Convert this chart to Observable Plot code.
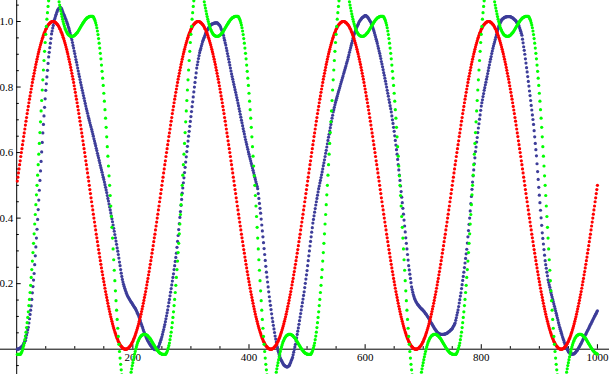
<!DOCTYPE html>
<html>
<head>
<meta charset="utf-8">
<script src="https://cdn.jsdelivr.net/npm/d3@7"></script>
<script src="https://cdn.jsdelivr.net/npm/@observablehq/plot@0.6"></script>
<style>
html,body{margin:0;padding:0;background:#fff;}
#chart svg{display:block;}
</style>
</head>
<body>
<div id="chart"></div>
<script>
// ---- tick values and labels ----
const xTicksMajor = [200, 400, 600, 800, 1000];
const xTickLabels = ["200", "400", "600", "800", "1000"];
const xTicksMinor = [50, 100, 150, 250, 300, 350, 450, 500, 550, 650, 700, 750, 850, 900, 950];
const yTicksMajor = [0.2, 0.4, 0.6, 0.8, 1.0];
const yTickLabels = ["0.2", "0.4", "0.6", "0.8", "1.0"];
const yTicksMinor = [-0.05, 0.05, 0.1, 0.15, 0.25, 0.3, 0.35, 0.45, 0.5, 0.55, 0.65, 0.7, 0.75, 0.85, 0.9, 0.95, 1.05];

// ---- series values (one value per sample, samples 1..1000) ----
const red = [
.513,.525,.538,.55,.563,.575,.588,.6,.612,.624,.636,.649,.66,.672,.684,.696,.707,.719,.73,.741,.752,.763,.773,.784,.794,.804,.814,.824,.833,.842,.851,.86,.869,.877,.885,.893,.901,.908,.915,.922,.929,.935,.941,.947,.952,.958,.963,.967,.971,.976,.979,.983,.986,.989,.991,.993,.995,.997,.998,.999,1,1,
1,1,.999,.998,.997,.995,.993,.991,.989,.986,.983,.979,.976,.971,.967,.963,.958,.952,.947,.941,.935,.929,.922,.915,.908,.901,.893,.885,.877,.869,.86,.851,.842,.833,.824,.814,.804,.794,.784,.773,.763,.752,.741,.73,.719,.707,.696,.684,.672,.66,.649,.636,.624,.612,.6,.588,.575,.563,.55,.538,.525,.513,
.5,
.487,.475,.462,.45,.437,.425,.412,.4,.388,.376,.364,.351,.34,.328,.316,.304,.293,.281,.27,.259,.248,.237,.227,.216,.206,.196,.186,.176,.167,.158,.149,.14,.131,.123,.115,.107,.099,.092,.085,.078,.071,.065,.059,.053,.048,.042,.037,.033,.029,.024,.021,.017,.014,.011,.009,.007,.005,.003,.002,.001,0,0,
0,0,.001,.002,.003,.005,.007,.009,.011,.014,.017,.021,.024,.029,.033,.037,.042,.048,.053,.059,.065,.071,.078,.085,.092,.099,.107,.115,.123,.131,.14,.149,.158,.167,.176,.186,.196,.206,.216,.227,.237,.248,.259,.27,.281,.293,.304,.316,.328,.34,.351,.364,.376,.388,.4,.412,.425,.437,.45,.462,.475,.487,
.5,
.513,.525,.538,.55,.563,.575,.588,.6,.612,.624,.636,.649,.66,.672,.684,.696,.707,.719,.73,.741,.752,.763,.773,.784,.794,.804,.814,.824,.833,.842,.851,.86,.869,.877,.885,.893,.901,.908,.915,.922,.929,.935,.941,.947,.952,.958,.963,.967,.971,.976,.979,.983,.986,.989,.991,.993,.995,.997,.998,.999,1,1,
1,1,.999,.998,.997,.995,.993,.991,.989,.986,.983,.979,.976,.971,.967,.963,.958,.952,.947,.941,.935,.929,.922,.915,.908,.901,.893,.885,.877,.869,.86,.851,.842,.833,.824,.814,.804,.794,.784,.773,.763,.752,.741,.73,.719,.707,.696,.684,.672,.66,.649,.636,.624,.612,.6,.588,.575,.563,.55,.538,.525,.513,
.5,
.487,.475,.462,.45,.437,.425,.412,.4,.388,.376,.364,.351,.34,.328,.316,.304,.293,.281,.27,.259,.248,.237,.227,.216,.206,.196,.186,.176,.167,.158,.149,.14,.131,.123,.115,.107,.099,.092,.085,.078,.071,.065,.059,.053,.048,.042,.037,.033,.029,.024,.021,.017,.014,.011,.009,.007,.005,.003,.002,.001,0,0,
0,0,.001,.002,.003,.005,.007,.009,.011,.014,.017,.021,.024,.029,.033,.037,.042,.048,.053,.059,.065,.071,.078,.085,.092,.099,.107,.115,.123,.131,.14,.149,.158,.167,.176,.186,.196,.206,.216,.227,.237,.248,.259,.27,.281,.293,.304,.316,.328,.34,.351,.364,.376,.388,.4,.412,.425,.437,.45,.462,.475,.487,
.5,
.513,.525,.538,.55,.563,.575,.588,.6,.612,.624,.636,.649,.66,.672,.684,.696,.707,.719,.73,.741,.752,.763,.773,.784,.794,.804,.814,.824,.833,.842,.851,.86,.869,.877,.885,.893,.901,.908,.915,.922,.929,.935,.941,.947,.952,.958,.963,.967,.971,.976,.979,.983,.986,.989,.991,.993,.995,.997,.998,.999,1,1,
1,1,.999,.998,.997,.995,.993,.991,.989,.986,.983,.979,.976,.971,.967,.963,.958,.952,.947,.941,.935,.929,.922,.915,.908,.901,.893,.885,.877,.869,.86,.851,.842,.833,.824,.814,.804,.794,.784,.773,.763,.752,.741,.73,.719,.707,.696,.684,.672,.66,.649,.636,.624,.612,.6,.588,.575,.563,.55,.538,.525,.513,
.5,
.487,.475,.462,.45,.437,.425,.412,.4,.388,.376,.364,.351,.34,.328,.316,.304,.293,.281,.27,.259,.248,.237,.227,.216,.206,.196,.186,.176,.167,.158,.149,.14,.131,.123,.115,.107,.099,.092,.085,.078,.071,.065,.059,.053,.048,.042,.037,.033,.029,.024,.021,.017,.014,.011,.009,.007,.005,.003,.002,.001,0,0,
0,0,.001,.002,.003,.005,.007,.009,.011,.014,.017,.021,.024,.029,.033,.037,.042,.048,.053,.059,.065,.071,.078,.085,.092,.099,.107,.115,.123,.131,.14,.149,.158,.167,.176,.186,.196,.206,.216,.227,.237,.248,.259,.27,.281,.293,.304,.316,.328,.34,.351,.364,.376,.388,.4,.412,.425,.437,.45,.462,.475,.487,
.5,
.513,.525,.538,.55,.563,.575,.588,.6,.612,.624,.636,.649,.66,.672,.684,.696,.707,.719,.73,.741,.752,.763,.773,.784,.794,.804,.814,.824,.833,.842,.851,.86,.869,.877,.885,.893,.901,.908,.915,.922,.929,.935,.941,.947,.952,.958,.963,.967,.971,.976,.979,.983,.986,.989,.991,.993,.995,.997,.998,.999,1,1,
1,1,.999,.998,.997,.995,.993,.991,.989,.986,.983,.979,.976,.971,.967,.963,.958,.952,.947,.941,.935,.929,.922,.915,.908,.901,.893,.885,.877,.869,.86,.851,.842,.833,.824,.814,.804,.794,.784,.773,.763,.752,.741,.73,.719,.707,.696,.684,.672,.66,.649,.636,.624,.612,.6,.588,.575,.563,.55,.538,.525,.513,
.5,
.487,.475,.462,.45,.437,.425,.412,.4,.388,.376,.364,.351,.34,.328,.316,.304,.293,.281,.27,.259,.248,.237,.227,.216,.206,.196,.186,.176,.167,.158,.149,.14,.131,.123,.115,.107,.099,.092,.085,.078,.071,.065,.059,.053,.048,.042,.037,.033,.029,.024,.021,.017,.014,.011,.009,.007,.005,.003,.002,.001,0,0,
0,0,.001,.002,.003,.005,.007,.009,.011,.014,.017,.021,.024,.029,.033,.037,.042,.048,.053,.059,.065,.071,.078,.085,.092,.099,.107,.115,.123,.131,.14,.149,.158,.167,.176,.186,.196,.206,.216,.227,.237,.248,.259,.27,.281,.293,.304,.316,.328,.34,.351,.364,.376,.388,.4,.412,.425,.437,.45,.462,.475,.487,
.5
];

const green = [
-.016,-.016,-.016,-.016,-.016,-.016,-.014,-.011,-.007,-.002,.004,.011,.019,.029,.04,.052,.066,.081,.097,.114,.133,.152,.173,.195,.219,.243,.269,.295,.323,.352,.382,.411,.441,.471,
.5,.531,.563,.595,.628,.661,.694,.727,.759,.791,.822,.852,.881,.909,.936,.961,.985,1.007,1.027,1.046,1.063,1.078,1.091,1.102,1.111,1.118,1.123,1.126,1.127,1.126,1.123,1.119,1.113,1.106,1.098,1.089,1.08,1.07,1.06,1.05,1.041,1.032,1.023,1.015,1.007,1,.993,.987,.981,.976,.972,.968,.965,.962,.96,.958,.957,.956,.955,.955,.955,.955,.955,.956,.957,.958,.96,.962,.964,.966,.968,.971,.974,.977,.98,.983,.986,.989,.992,.995,.998,1,1.003,1.005,1.007,1.009,1.011,1.012,1.013,1.014,1.015,1.016,1.016,1.016,1.016,1.016,1.016,1.014,1.011,1.007,1.002,.996,.989,.981,.971,.96,.948,.934,.919,.903,.886,.867,.848,.827,.805,.781,.757,.731,.705,.677,.648,.618,.589,.559,.529,
.5,.469,.437,.405,.372,.339,.306,.273,.241,.209,.178,.148,.119,.091,.064,.039,.015,-.007,-.027,-.046,-.063,-.078,-.091,-.102,-.111,-.118,-.123,-.126,-.127,-.126,-.123,-.119,-.113,-.106,-.098,-.089,-.08,-.07,-.06,-.05,-.041,-.032,-.023,-.015,-.007,0,.007,.013,.019,.024,.028,.032,.035,.038,.04,.042,.043,.044,.045,.045,.045,.045,.045,.044,.043,.042,.04,.038,.036,.034,.032,.029,.026,.023,.02,.017,.014,.011,.008,.005,.002,0,-.003,-.005,-.007,-.009,-.011,-.012,-.013,-.014,-.015,
-.016,-.016,-.016,-.016,-.016,-.016,-.014,-.011,-.007,-.002,.004,.011,.019,.029,.04,.052,.066,.081,.097,.114,.133,.152,.173,.195,.219,.243,.269,.295,.323,.352,.382,.411,.441,.471,
.5,.531,.563,.595,.628,.661,.694,.727,.759,.791,.822,.852,.881,.909,.936,.961,.985,1.007,1.027,1.046,1.063,1.078,1.091,1.102,1.111,1.118,1.123,1.126,1.127,1.126,1.123,1.119,1.113,1.106,1.098,1.089,1.08,1.07,1.06,1.05,1.041,1.032,1.023,1.015,1.007,1,.993,.987,.981,.976,.972,.968,.965,.962,.96,.958,.957,.956,.955,.955,.955,.955,.955,.956,.957,.958,.96,.962,.964,.966,.968,.971,.974,.977,.98,.983,.986,.989,.992,.995,.998,1,1.003,1.005,1.007,1.009,1.011,1.012,1.013,1.014,1.015,1.016,1.016,1.016,1.016,1.016,1.016,1.014,1.011,1.007,1.002,.996,.989,.981,.971,.96,.948,.934,.919,.903,.886,.867,.848,.827,.805,.781,.757,.731,.705,.677,.648,.618,.589,.559,.529,
.5,.469,.437,.405,.372,.339,.306,.273,.241,.209,.178,.148,.119,.091,.064,.039,.015,-.007,-.027,-.046,-.063,-.078,-.091,-.102,-.111,-.118,-.123,-.126,-.127,-.126,-.123,-.119,-.113,-.106,-.098,-.089,-.08,-.07,-.06,-.05,-.041,-.032,-.023,-.015,-.007,0,.007,.013,.019,.024,.028,.032,.035,.038,.04,.042,.043,.044,.045,.045,.045,.045,.045,.044,.043,.042,.04,.038,.036,.034,.032,.029,.026,.023,.02,.017,.014,.011,.008,.005,.002,0,-.003,-.005,-.007,-.009,-.011,-.012,-.013,-.014,-.015,
-.016,-.016,-.016,-.016,-.016,-.016,-.014,-.011,-.007,-.002,.004,.011,.019,.029,.04,.052,.066,.081,.097,.114,.133,.152,.173,.195,.219,.243,.269,.295,.323,.352,.382,.411,.441,.471,
.5,.531,.563,.595,.628,.661,.694,.727,.759,.791,.822,.852,.881,.909,.936,.961,.985,1.007,1.027,1.046,1.063,1.078,1.091,1.102,1.111,1.118,1.123,1.126,1.127,1.126,1.123,1.119,1.113,1.106,1.098,1.089,1.08,1.07,1.06,1.05,1.041,1.032,1.023,1.015,1.007,1,.993,.987,.981,.976,.972,.968,.965,.962,.96,.958,.957,.956,.955,.955,.955,.955,.955,.956,.957,.958,.96,.962,.964,.966,.968,.971,.974,.977,.98,.983,.986,.989,.992,.995,.998,1,1.003,1.005,1.007,1.009,1.011,1.012,1.013,1.014,1.015,1.016,1.016,1.016,1.016,1.016,1.016,1.014,1.011,1.007,1.002,.996,.989,.981,.971,.96,.948,.934,.919,.903,.886,.867,.848,.827,.805,.781,.757,.731,.705,.677,.648,.618,.589,.559,.529,
.5,.469,.437,.405,.372,.339,.306,.273,.241,.209,.178,.148,.119,.091,.064,.039,.015,-.007,-.027,-.046,-.063,-.078,-.091,-.102,-.111,-.118,-.123,-.126,-.127,-.126,-.123,-.119,-.113,-.106,-.098,-.089,-.08,-.07,-.06,-.05,-.041,-.032,-.023,-.015,-.007,0,.007,.013,.019,.024,.028,.032,.035,.038,.04,.042,.043,.044,.045,.045,.045,.045,.045,.044,.043,.042,.04,.038,.036,.034,.032,.029,.026,.023,.02,.017,.014,.011,.008,.005,.002,0,-.003,-.005,-.007,-.009,-.011,-.012,-.013,-.014,-.015,
-.016,-.016,-.016,-.016,-.016,-.016,-.014,-.011,-.007,-.002,.004,.011,.019,.029,.04,.052,.066,.081,.097,.114,.133,.152,.173,.195,.219,.243,.269,.295,.323,.352,.382,.411,.441,.471,
.5,.531,.563,.595,.628,.661,.694,.727,.759,.791,.822,.852,.881,.909,.936,.961,.985,1.007,1.027,1.046,1.063,1.078,1.091,1.102,1.111,1.118,1.123,1.126,1.127,1.126,1.123,1.119,1.113,1.106,1.098,1.089,1.08,1.07,1.06,1.05,1.041,1.032,1.023,1.015,1.007,1,.993,.987,.981,.976,.972,.968,.965,.962,.96,.958,.957,.956,.955,.955,.955,.955,.955,.956,.957,.958,.96,.962,.964,.966,.968,.971,.974,.977,.98,.983,.986,.989,.992,.995,.998,1,1.003,1.005,1.007,1.009,1.011,1.012,1.013,1.014,1.015,1.016,1.016,1.016,1.016,1.016,1.016,1.014,1.011,1.007,1.002,.996,.989,.981,.971,.96,.948,.934,.919,.903,.886,.867,.848,.827,.805,.781,.757,.731,.705,.677,.648,.618,.589,.559,.529,
.5,.469,.437,.405,.372,.339,.306,.273,.241,.209,.178,.148,.119,.091,.064,.039,.015,-.007,-.027,-.046,-.063,-.078,-.091,-.102,-.111,-.118,-.123,-.126,-.127,-.126,-.123,-.119,-.113,-.106,-.098,-.089,-.08,-.07,-.06,-.05,-.041,-.032,-.023,-.015,-.007,0,.007,.013,.019,.024,.028,.032,.035,.038,.04,.042,.043,.044,.045,.045,.045,.045,.045,.044,.043,.042,.04,.038,.036,.034,.032,.029,.026,.023,.02,.017,.014,.011,.008,.005,.002,0,-.003,-.005,-.007,-.009,-.011,-.012,-.013,-.014,-.015
];

const blue = [
0,0,.001,.001,.002,.004,.005,.007,.008,.01,.013,.017,.02,.024,.027,.035,.043,.051,.059,.067,.08,.093,.106,.119,.132,.152,.172,.191,.211,.231,.258,.285,.312,.339,.366,.396,.426,.455,.485,.515,.544,.573,.602,.631,.66,.686,.712,.738,.764,.79,
.81,.831,.851,.872,.892,.906,.92,.934,.948,.962,.971,.98,.988,.997,1.006,1.011,1.017,1.022,1.028,1.033,1.036,1.039,1.041,1.042,1.043,1.042,1.04,1.036,1.031,1.026,1.022,1.018,1.014,1.009,1.005,1,.995,.99,.984,.979,.972,.965,.958,.951,.944,.936,.927,.919,.91,.902,
.893,.884,.876,.867,.858,.849,.84,.832,.823,.814,.806,.798,.79,.782,.774,.766,.758,.75,.742,.734,.727,.72,.712,.705,.698,.691,.684,.678,.671,.664,.657,.65,.642,.635,.628,.621,.613,.606,.598,.591,.584,.576,.569,.561,.554,.547,.54,.532,.525,.518,
.51,.502,.494,.486,.478,.469,.46,.452,.443,.434,.425,.416,.407,.398,.389,.379,.369,.36,.35,.34,.33,.32,.309,.299,.289,.278,.266,.255,.243,.232,.222,.213,.205,.198,.192,.186,.181,.176,.171,.166,.162,.159,.156,.153,.15,.147,.144,.142,.139,.136,
.133,.13,.128,.125,.122,.118,.114,.11,.106,.102,.097,.091,.086,.08,.075,.07,.065,.059,.054,.049,.045,.041,.036,.032,.028,.025,.022,.019,.016,.013,.011,.009,.006,.004,.002,.001,0,-.001,-.001,-.001,.001,.003,.005,.007,.01,.016,.021,.027,.032,.038,
.045,.053,.06,.068,.075,.084,.093,.102,.111,.12,.131,.142,.152,.163,.174,.185,.196,.208,.219,.23,.243,.255,.268,.28,.293,.311,.329,.347,.365,.383,.402,.42,.439,.457,.476,.492,.508,.523,.539,.555,.571,.587,.603,.619,.635,.65,.665,.68,.695,.71,
.725,.74,.755,.77,.785,.8,.814,.829,.843,.858,.868,.877,.887,.896,.905,.912,.918,.925,.931,.938,.943,.948,.952,.957,.962,.966,.969,.973,.976,.98,.982,.984,.987,.989,.991,.992,.993,.993,.994,.995,.995,.996,.996,.996,.996,.995,.993,.991,.989,.987,
.983,.978,.974,.969,.965,.958,.95,.943,.935,.928,.919,.911,.902,.894,.885,.876,.867,.858,.849,.84,.832,.824,.816,.808,.8,.792,.784,.776,.768,.76,.751,.743,.734,.726,.717,.708,.699,.691,.682,.673,.665,.657,.648,.64,.632,.625,.617,.61,.602,.595,
.588,.581,.574,.567,.56,.553,.546,.539,.532,.525,.518,.511,.504,.497,.49,.475,.46,.445,.43,.415,.397,.379,.361,.343,.325,.307,.289,.271,.253,.235,.22,.205,.19,.175,.16,.147,.134,.121,.108,.095,.084,.073,.062,.051,.04,.031,.022,.013,.004,-.005,
-.01,-.016,-.021,-.027,-.032,-.035,-.038,-.042,-.045,-.048,-.049,-.051,-.052,-.053,-.054,-.054,-.053,-.052,-.05,-.048,-.043,-.039,-.034,-.03,-.025,-.017,-.009,-.001,.007,.015,.025,.035,.045,.055,.065,.076,.087,.098,.109,.12,.131,.142,.153,.164,.175,.188,.201,.214,.227,.24,
.255,.27,.285,.3,.315,.329,.343,.357,.371,.385,.396,.407,.418,.429,.44,.45,.46,.47,.48,.49,.498,.507,.515,.524,.532,.541,.55,.56,.569,.578,.588,.598,.607,.617,.627,.637,.647,.656,.666,.676,.686,.695,.705,.714,.724,.731,.738,.746,.753,.76,
.766,.772,.779,.785,.791,.797,.803,.81,.816,.822,.828,.834,.841,.847,.853,.859,.865,.872,.878,.884,.891,.898,.906,.913,.92,.927,.934,.941,.948,.955,.96,.965,.97,.975,.98,.984,.988,.992,.996,1,1.002,1.005,1.007,1.01,1.012,1.013,1.014,1.016,1.017,1.018,
1.018,1.017,1.015,1.014,1.012,1.009,1.006,1.003,1,.997,.992,.987,.982,.977,.972,.966,.959,.953,.946,.94,.933,.925,.918,.91,.903,.895,.887,.878,.87,.862,.853,.844,.836,.827,.818,.809,.8,.79,.781,.772,.762,.753,.743,.734,.724,.712,.7,.689,.677,.665,
.651,.637,.623,.609,.595,.579,.563,.547,.531,.515,.498,.481,.464,.447,.43,.412,.394,.376,.358,.34,.323,.306,.289,.272,.255,.242,.229,.216,.203,.19,.182,.174,.167,.161,.155,.151,.147,.144,.141,.138,.136,.134,.131,.129,.127,.125,.123,.122,.12,.118,
.116,.114,.111,.109,.107,.104,.101,.099,.096,.093,.09,.087,.083,.08,.077,.074,.071,.068,.065,.062,.06,.057,.055,.052,.05,.049,.048,.047,.046,.045,.045,.045,.045,.045,.045,.046,.046,.047,.047,.048,.049,.05,.052,.053,.054,.056,.058,.059,.061,.063,
.066,.07,.073,.077,.08,.088,.096,.104,.112,.12,.13,.141,.151,.162,.172,.185,.197,.21,.222,.235,.249,.263,.277,.291,.305,.324,.343,.362,.381,.4,.422,.444,.466,.488,.51,.529,.547,.566,.584,.603,.617,.632,.646,.661,.675,.688,.702,.715,.729,.742,
.752,.761,.771,.78,.79,.798,.807,.815,.824,.832,.841,.85,.859,.868,.877,.885,.893,.902,.91,.918,.925,.932,.938,.945,.952,.959,.965,.972,.978,.985,.989,.993,.997,1.001,1.005,1.007,1.008,1.01,1.011,1.013,1.013,1.014,1.014,1.015,1.015,1.015,1.015,1.015,1.015,1.015,
1.014,1.013,1.012,1.011,1.01,1.008,1.006,1.005,1.003,1.001,.998,.995,.993,.99,.987,.981,.975,.97,.964,.958,.946,.935,.923,.912,.9,.886,.873,.859,.846,.832,.817,.803,.788,.774,.759,.744,.73,.715,.701,.686,.667,.648,.628,.609,.59,.566,.542,.518,.494,.47,
.447,.424,.401,.378,.355,.338,.321,.304,.287,.27,.258,.247,.235,.224,.212,.204,.196,.189,.181,.173,.166,.159,.152,.145,.138,.131,.124,.117,.11,.103,.096,.089,.081,.074,.067,.061,.055,.049,.043,.037,.032,.027,.021,.016,.011,.007,.003,0,-.004,-.008,
-.009,-.011,-.012,-.014,-.015,-.015,-.015,-.015,-.014,-.014,-.012,-.01,-.008,-.006,-.004,-.001,.002,.005,.008,.011,.015,.018,.022,.025,.029,.032,.036,.039,.043,.046,.05,.053,.057,.06,.064,.068,.071,.075,.078,.082,.086,.089,.093,.096,.1,.103,.107,.11,.114,.117
];

// ---- layout (pixels) ----
const W = 609, H = 374;
const xDomain = [-27.9, 1020.8];
const yDomain = [-0.0772, 1.0641];
const pxX = (xDomain[1] - xDomain[0]) / W;
const pxY = (yDomain[1] - yDomain[0]) / H;

const series = [
  {name: "blue", values: blue, color: "rgb(61,61,153)"},
  {name: "red", values: red, color: "#ff0000"},
  {name: "green", values: green, color: "#00ff00"}
];

const marks = [
  Plot.ruleY([0], {stroke: "#000", strokeWidth: 1}),
  Plot.ruleX([0], {stroke: "#000", strokeWidth: 1}),
  Plot.ruleX(xTicksMinor, {x: d => d, y1: 0, y2: 2.6 * pxY, stroke: "#000", strokeWidth: 1}),
  Plot.ruleX(xTicksMajor, {x: d => d, y1: 0, y2: 4.5 * pxY, stroke: "#000", strokeWidth: 1}),
  Plot.ruleY(yTicksMinor, {y: d => d, x1: 0, x2: 2.6 * pxX, stroke: "#000", strokeWidth: 1}),
  Plot.ruleY(yTicksMajor, {y: d => d, x1: 0, x2: 4.5 * pxX, stroke: "#000", strokeWidth: 1}),
  Plot.text(xTicksMajor, {x: d => d, y: 0, text: (d, i) => xTickLabels[i], dy: 8, fill: "#000", textAnchor: "middle"}),
  Plot.text(yTicksMajor, {x: 0, y: d => d, text: (d, i) => yTickLabels[i], dx: -3.5, fill: "#000", textAnchor: "end"})
];

for (const s of series) {
  const rows = s.values.map((v, i) => ({x: i + 1, y: v}));
  marks.push(Plot.dot(rows, {x: "x", y: "y", r: 1.6, fill: s.color, stroke: null, clip: true}));
}

const chart = Plot.plot({
  width: W,
  height: H,
  margin: 0,
  x: {domain: xDomain, axis: null},
  y: {domain: yDomain, axis: null},
  style: {background: "#fff", fontFamily: "'Liberation Serif', 'DejaVu Serif', serif", fontSize: "11px", overflow: "hidden"},
  marks
});
document.getElementById("chart").appendChild(chart);
</script>
</body>
</html>
